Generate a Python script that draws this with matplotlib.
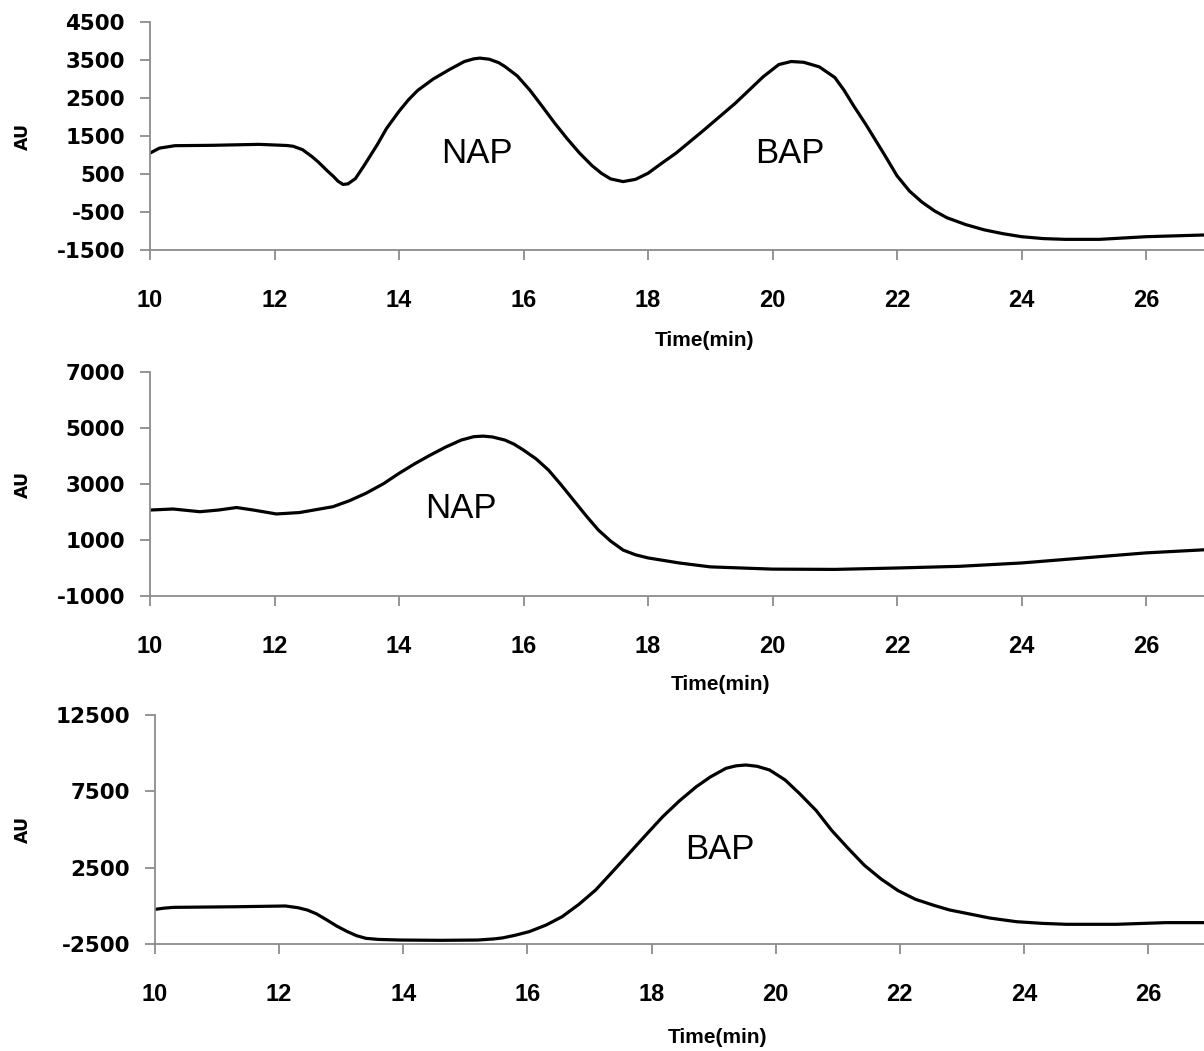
import matplotlib
matplotlib.use("Agg")
import matplotlib.pyplot as plt

plt.rcParams["axes.unicode_minus"] = False

# ---- data (time in min, signal in AU) ----
t_mix = [10.0, 10.15, 10.4, 11.0, 11.75, 12.2, 12.3, 12.45, 12.6, 12.7, 12.85, 12.95,
         13.02, 13.1, 13.18, 13.3, 13.45, 13.65, 13.8, 14.0, 14.15, 14.3, 14.55, 14.8,
         15.05, 15.2, 15.3, 15.45, 15.6, 15.7, 15.9, 16.1, 16.3, 16.5, 16.7, 16.9,
         17.1, 17.25, 17.4, 17.6, 17.8, 18.0, 18.2, 18.45, 18.9, 19.4, 19.85, 20.1,
         20.3, 20.5, 20.75, 21.0, 21.15, 21.3, 21.5, 21.65, 21.8, 22.0, 22.2, 22.4,
         22.6, 22.8, 23.1, 23.4, 23.7, 24.0, 24.35, 24.7, 25.25, 26.0, 26.93]
au_mix = [1050, 1180, 1245, 1255, 1280, 1250, 1230, 1140, 960, 820, 580, 430,
          310, 225, 240, 380, 750, 1270, 1700, 2150, 2450, 2700, 3000, 3240,
          3460, 3530, 3550, 3520, 3430, 3330, 3080, 2710, 2280, 1840, 1430, 1050,
          720, 520, 370, 300, 360, 520, 760, 1050, 1660, 2360, 3060, 3380,
          3460, 3440, 3320, 3040, 2700, 2300, 1800, 1400, 1000, 450, 50, -240,
          -470, -650, -830, -970, -1070, -1150, -1200, -1220, -1220, -1150, -1105]

t_nap = [10.0, 10.37, 10.8, 11.1, 11.39, 11.66, 12.03, 12.4, 12.94, 13.2, 13.47, 13.75,
         14.0, 14.25, 14.5, 14.75, 15.0, 15.2, 15.35, 15.5, 15.7, 15.85, 16.0, 16.2,
         16.4, 16.6, 16.8, 17.0, 17.2, 17.4, 17.6, 17.8, 18.0, 18.5, 19.0, 19.5,
         20.0, 21.0, 22.0, 23.0, 24.0, 25.0, 26.0, 26.93]
au_nap = [2070, 2107, 2010, 2070, 2160, 2070, 1930, 1980, 2190, 2400, 2670, 3010,
          3380, 3720, 4030, 4320, 4570, 4690, 4710, 4680, 4570, 4420, 4210, 3900,
          3500, 2980, 2430, 1880, 1360, 960, 640, 470, 360, 180, 40, 0,
          -40, -50, 0, 60, 180, 360, 540, 650]

t_bap = [10.0, 10.15, 10.3, 11.3, 12.1, 12.3, 12.45, 12.6, 12.77, 12.93, 13.1, 13.25,
         13.4, 13.6, 13.95, 14.6, 15.2, 15.45, 15.6, 15.8, 16.03, 16.3, 16.56, 16.83,
         17.1, 17.37, 17.64, 17.91, 18.18, 18.45, 18.72, 18.95, 19.2, 19.36, 19.52, 19.7,
         19.9, 20.15, 20.38, 20.65, 20.9, 21.17, 21.43, 21.7, 21.97, 22.25, 22.55, 22.8,
         23.07, 23.45, 23.88, 24.3, 24.68, 25.49, 26.29, 26.9]
au_bap = [-230, -150, -100, -60, -10, -120, -270, -520, -930, -1330, -1690, -1960,
          -2130, -2200, -2240, -2260, -2240, -2170, -2100, -1930, -1690, -1260, -710, 100,
          1040, 2230, 3440, 4650, 5840, 6880, 7800, 8450, 9010, 9170, 9225, 9140,
          8900, 8250, 7370, 6250, 4950, 3750, 2650, 1750, 1000, 430, 30, -270,
          -490, -800, -1040, -1150, -1210, -1210, -1100, -1100]

x_ticks = [10, 12, 14, 16, 18, 20, 22, 24, 26]
y_ticks_mix = [-1500, -500, 500, 1500, 2500, 3500, 4500]
y_ticks_nap = [-1000, 1000, 3000, 5000, 7000]
y_ticks_bap = [-2500, 2500, 7500, 12500]

W, H = 1204, 1051
fig = plt.figure(figsize=(W / 100, H / 100), dpi=100)
fig.patch.set_facecolor("white")

GREY = "#8c8c8c"


def panel(px_left, px_top, px_bottom, t, au, yticks, x_right, labels, xlab_pos):
    ax = fig.add_axes([px_left / W, 1 - px_bottom / H,
                       (W - px_left) / W, (px_bottom - px_top) / H])
    ax.plot(t, au, color="black", lw=2.3, solid_joinstyle="round")
    ax.set_xlim(10, x_right)
    ax.set_ylim(yticks[0], yticks[-1])
    ax.set_xticks(x_ticks)
    ax.set_yticks(yticks)
    for s in ["top", "right"]:
        ax.spines[s].set_visible(False)
    for s in ["left", "bottom"]:
        ax.spines[s].set_color(GREY)
        ax.spines[s].set_linewidth(1.3)
    ax.tick_params(axis="both", direction="out", length=7, width=1.3, color=GREY)
    ax.tick_params(axis="x", pad=21)
    ax.tick_params(axis="y", pad=11)
    for lab in ax.get_xticklabels():
        lab.set_fontfamily("Liberation Sans")
        lab.set_fontweight("bold")
        lab.set_fontsize(17)
    for lab in ax.get_yticklabels():
        lab.set_fontfamily("DejaVu Sans")
        lab.set_fontweight("bold")
        lab.set_fontsize(15.5)
    ax.set_xlabel("Time(min)", fontfamily="Liberation Sans", fontweight="bold",
                  fontsize=15, va="center")
    ax.xaxis.set_label_coords(*xlab_pos)
    ax.set_ylabel("AU", fontfamily="DejaVu Sans", fontweight="bold",
                  fontsize=12.5, va="center")
    ax.yaxis.set_label_coords(-(px_left - 23) / (W - px_left), 0.5)
    for txt, tx, ty in labels:
        ax.text(tx, ty, txt, fontfamily="Liberation Sans", fontsize=25,
                ha="center", va="center")
    return ax


panel(150, 22, 250, t_mix, au_mix, y_ticks_mix, 26.93,
      [("NAP", 15.25, 1050), ("BAP", 20.27, 1050)], (0.526, -0.395))
panel(150, 372, 596, t_nap, au_nap, y_ticks_nap, 26.93,
      [("NAP", 15.0, 2140)], (0.541, -0.393))
panel(155, 715, 944, t_bap, au_bap, y_ticks_bap, 26.9,
      [("BAP", 19.1, 3660)], (0.536, -0.41))

fig.savefig("out.png", dpi=100, facecolor="white")
